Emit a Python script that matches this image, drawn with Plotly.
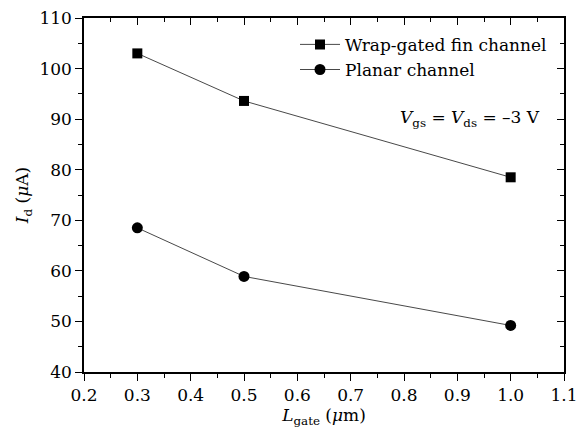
import plotly.graph_objects as go

x_vals = [0.3, 0.5, 1.0]
wrap_fin = [103.0, 93.6, 78.5]
planar = [68.5, 58.9, 49.2]
x_ticks = [0.2, 0.3, 0.4, 0.5, 0.6, 0.7, 0.8, 0.9, 1.0, 1.1]
y_ticks = [40, 50, 60, 70, 80, 90, 100, 110]

FONT = "DejaVu Serif"

fig = go.Figure()
fig.add_trace(go.Scatter(x=x_vals, y=wrap_fin, mode="lines+markers",
                         name="Wrap-gated fin channel",
                         line=dict(color="#333333", width=0.9),
                         marker=dict(symbol="square", size=10, color="black")))
fig.add_trace(go.Scatter(x=x_vals, y=planar, mode="lines+markers",
                         name="Planar channel",
                         line=dict(color="#333333", width=0.9),
                         marker=dict(symbol="circle", size=11, color="black")))
# empty trace so the mirrored top/right axes are drawn
fig.add_trace(go.Scatter(x=[None], y=[None], xaxis="x2", yaxis="y2",
                         showlegend=False, hoverinfo="skip"))

axis_common = dict(showgrid=False, zeroline=False, linecolor="black", linewidth=1.5,
                   tickcolor="black", tickwidth=1.2, ticklen=7, automargin=False)

fig.update_layout(
    width=579, height=436,
    margin=dict(l=84, r=15, t=18, b=64),
    plot_bgcolor="white", paper_bgcolor="white",
    font=dict(family=FONT, size=17, color="black"),
    showlegend=True,
    legend=dict(x=0.975, y=0.975, xanchor="right", yanchor="top",
                bgcolor="rgba(0,0,0,0)", font=dict(size=17, family=FONT),
                itemwidth=40, tracegroupgap=0),
    xaxis=dict(range=[0.2, 1.1], tickvals=x_ticks,
               ticktext=[f"{v:.1f}" for v in x_ticks], ticks="outside",
               minor=dict(dtick=0.05, ticks="outside", ticklen=4, tickcolor="black", tickwidth=1),
               title=dict(text="<i>L</i><sub>gate</sub> (<i>μ</i>m)", standoff=4, font=dict(size=17)),
               **axis_common),
    yaxis=dict(range=[40, 110], tickvals=y_ticks, ticks="outside",
               minor=dict(dtick=5, ticks="outside", ticklen=4, tickcolor="black", tickwidth=1),
               title=dict(text="<i>I</i><sub>d</sub> (<i>μ</i>A)", standoff=6, font=dict(size=17)),
               **axis_common),
    xaxis2=dict(range=[0.2, 1.1], overlaying="x", side="top", anchor="y2",
                tickvals=x_ticks, showticklabels=False, ticks="inside",
                minor=dict(dtick=0.05, ticks="inside", ticklen=4, tickcolor="black", tickwidth=1),
                **axis_common),
    yaxis2=dict(range=[40, 110], overlaying="y", side="right", anchor="x2",
                tickvals=y_ticks, showticklabels=False, ticks="inside",
                minor=dict(dtick=5, ticks="inside", ticklen=4, tickcolor="black", tickwidth=1),
                **axis_common),
)

fig.add_annotation(x=0.955, y=0.715, xref="paper", yref="paper", xanchor="right", yanchor="middle",
                   text="<i>V</i><sub>gs</sub> = <i>V</i><sub>ds</sub> = –3 V",
                   showarrow=False, font=dict(size=17, family=FONT))

fig.write_html("out.html", config={"displayModeBar": False},
               post_script="document.body.style.margin='0px';document.body.style.padding='0px';")
